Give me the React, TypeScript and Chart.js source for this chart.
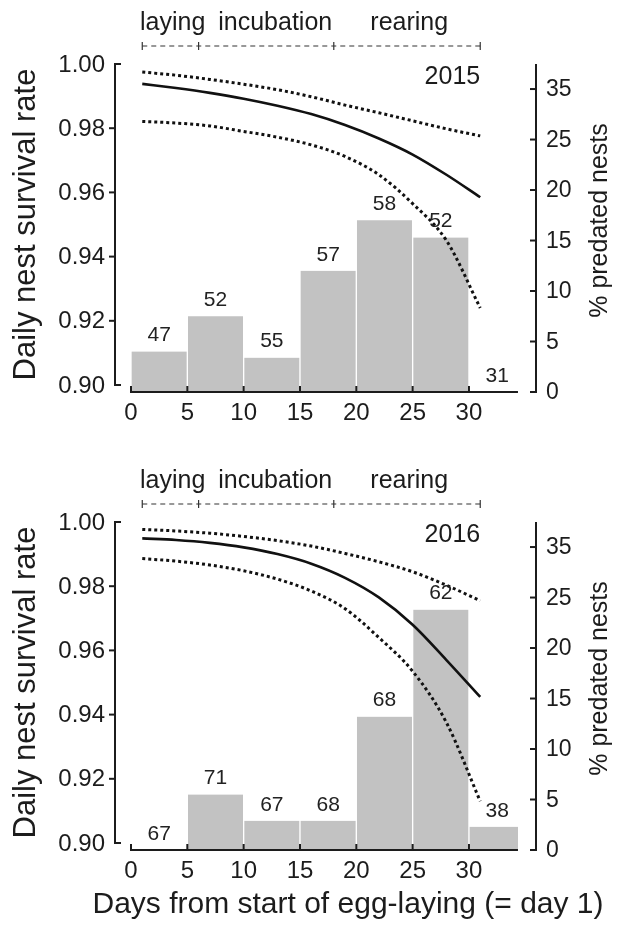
import React, { useEffect, useRef } from "react";
import { Chart, registerables } from "chart.js";

Chart.register(...registerables);

// ---------------- data ----------------
const BIN_CENTERS = [2.5, 7.5, 12.5, 17.5, 22.5, 27.5, 32.5];
const PREDATED_2015 = [4.0, 7.5, 3.4, 12.0, 17.0, 15.3, 0];
const NESTS_2015 = ["47", "52", "55", "57", "58", "52", "31"];
const PREDATED_2016 = [0, 5.5, 2.9, 2.9, 13.2, 23.8, 2.3];
const NESTS_2016 = ["67", "71", "67", "68", "68", "62", "38"];

const CURVE_DAYS = [1, 4, 7, 10, 13, 16, 19, 22, 25, 28, 31];
const DSR_2015 = [0.9938, 0.9925, 0.991, 0.9892, 0.987, 0.9844, 0.981, 0.9768, 0.9718, 0.9655, 0.9585];
const UPPER_2015 = [0.9975, 0.9965, 0.9952, 0.9937, 0.992, 0.9898, 0.9872, 0.9848, 0.9823, 0.9798, 0.9776];
const LOWER_2015 = [0.9821, 0.9816, 0.9807, 0.979, 0.9772, 0.9748, 0.9712, 0.9655, 0.9565, 0.945, 0.924];
const DSR_2016 = [0.9949, 0.9944, 0.9935, 0.9921, 0.99, 0.987, 0.9826, 0.9765, 0.968, 0.957, 0.9455];
const UPPER_2016 = [0.9977, 0.9972, 0.9965, 0.9955, 0.9942, 0.9925, 0.9902, 0.9876, 0.9845, 0.9803, 0.9755];
const LOWER_2016 = [0.9886, 0.9878, 0.9866, 0.9848, 0.9822, 0.9785, 0.973, 0.964, 0.9535, 0.9375, 0.913];

// ---------------- axes ----------------
const X_TICKS = [0, 5, 10, 15, 20, 25, 30];
const X_AXIS_END = 34.35;
const LEFT_TICKS = [0.9, 0.92, 0.94, 0.96, 0.98, 1.0];
const RIGHT_TICKS = [0, 5, 10, 15, 20, 25, 30];
const RIGHT_TICK_LABELS = ["0", "5", "10", "15", "20", "25", "35"];
const PHASE_LABELS = ["laying", "incubation", "rearing"];
const PHASE_LABEL_DAYS = [3.7, 12.8, 24.7];
const PHASE_BOUNDS = [1, 6, 18, 31];
const YEAR_LABEL_DAY = 31;

const FONT = '"Liberation Sans", Arial, Helvetica, sans-serif';
const INK = "#1c1c1c";

const decorPlugin = {
  id: "panelDecor",
  beforeDatasetDraw(chart: any, args: any) {
    if (args.meta.type !== "bar") return;
    const { ctx, chartArea, scales } = chart;
    const right = scales.x.getPixelForValue(X_AXIS_END);
    ctx.save();
    ctx.beginPath();
    ctx.rect(chartArea.left, chartArea.top - 40, right - chartArea.left, chartArea.bottom - chartArea.top + 40);
    ctx.clip();
  },
  afterDatasetDraw(chart: any, args: any) {
    if (args.meta.type !== "bar") return;
    chart.ctx.restore();
  },
  afterDraw(chart: any) {
    const o = chart.options.plugins.panelDecor;
    const { ctx, chartArea } = chart;
    const xs = chart.scales.x;
    const ys = chart.scales.y;
    const y1 = chart.scales.y1;
    const seg = (a: number, b: number, c: number, d: number) => {
      ctx.beginPath();
      ctx.moveTo(a, b);
      ctx.lineTo(c, d);
      ctx.stroke();
    };
    const TICK = 6;
    ctx.save();
    ctx.strokeStyle = INK;
    ctx.fillStyle = INK;
    ctx.lineWidth = 2;

    // ---- left axis ----
    const lx = chartArea.left;
    const lTop = ys.getPixelForValue(LEFT_TICKS[LEFT_TICKS.length - 1]);
    const lBot = ys.getPixelForValue(LEFT_TICKS[0]);
    seg(lx, lTop - 1, lx, lBot + 1);
    ctx.font = `24px ${FONT}`;
    ctx.textAlign = "right";
    ctx.textBaseline = "middle";
    LEFT_TICKS.forEach((v, i) => {
      const py = ys.getPixelForValue(v);
      const end = i === 0 || i === LEFT_TICKS.length - 1;
      if (end) seg(lx - 1, py, lx + TICK, py);
      else seg(lx - TICK, py, lx, py);
      ctx.fillText(v.toFixed(2), lx - 10, py + 1);
    });

    // ---- bottom axis ----
    const by = chartArea.bottom;
    seg(xs.getPixelForValue(X_TICKS[0]) - 1, by, xs.getPixelForValue(X_AXIS_END), by);
    ctx.textAlign = "center";
    X_TICKS.forEach((v) => {
      const px = xs.getPixelForValue(v);
      seg(px, by + 1, px, by - TICK);
      ctx.fillText(String(v), px, by + 21);
    });

    // ---- right axis ----
    const rx = chartArea.right;
    seg(rx, chartArea.top, rx, y1.getPixelForValue(RIGHT_TICKS[0]) + 1);
    ctx.font = `23px ${FONT}`;
    ctx.textAlign = "left";
    RIGHT_TICKS.forEach((v, i) => {
      const py = y1.getPixelForValue(v);
      seg(rx - TICK, py, rx + 1, py);
      ctx.fillText(RIGHT_TICK_LABELS[i], rx + 10, py + 1);
    });

    // ---- axis titles ----
    ctx.save();
    ctx.translate(26, (lTop + lBot) / 2);
    ctx.rotate(-Math.PI / 2);
    ctx.textAlign = "center";
    ctx.font = `31px ${FONT}`;
    ctx.fillText("Daily nest survival rate", 0, 0);
    ctx.restore();

    ctx.save();
    ctx.translate(rx + 64, (lTop + lBot) / 2 - 4);
    ctx.rotate(-Math.PI / 2);
    ctx.textAlign = "center";
    ctx.font = `25px ${FONT}`;
    ctx.fillText("% predated nests", 0, 0);
    ctx.restore();

    if (o.showXTitle) {
      ctx.font = `30px ${FONT}`;
      ctx.textAlign = "center";
      ctx.fillText("Days from start of egg-laying (= day 1)", 348, by + 55);
    }

    // ---- year ----
    ctx.font = `25px ${FONT}`;
    ctx.textAlign = "right";
    ctx.fillText(o.year, xs.getPixelForValue(YEAR_LABEL_DAY), chartArea.top + 13);

    // ---- phase bracket ----
    const bY = chartArea.top - 18;
    ctx.lineWidth = 1.2;
    ctx.strokeStyle = "#333";
    ctx.setLineDash([5, 4]);
    seg(xs.getPixelForValue(PHASE_BOUNDS[0]), bY, xs.getPixelForValue(PHASE_BOUNDS[PHASE_BOUNDS.length - 1]), bY);
    ctx.setLineDash([]);
    PHASE_BOUNDS.forEach((d) => {
      const px = xs.getPixelForValue(d);
      seg(px, bY - 4, px, bY + 4);
    });
    ctx.font = `25px ${FONT}`;
    ctx.textAlign = "center";
    PHASE_LABELS.forEach((lab, i) => {
      ctx.fillText(lab, xs.getPixelForValue(PHASE_LABEL_DAYS[i]), chartArea.top - 41);
    });

    // ---- bar sample sizes ----
    ctx.font = `21px ${FONT}`;
    ctx.fillStyle = "#222";
    o.counts.forEach((lab: string, i: number) => {
      const top = y1.getPixelForValue(o.values[i]);
      ctx.fillText(lab, xs.getPixelForValue(BIN_CENTERS[i]), top - 16);
    });
    ctx.restore();
  },
};

function buildConfig(values: number[], counts: string[], dsr: number[], lower: number[], upper: number[], year: string, showXTitle: boolean, bottomPad: number) {
  const pts = (arr: number[]) => CURVE_DAYS.map((d, i) => ({ x: d, y: arr[i] }));
  const lineBase = {
    type: "line" as const,
    yAxisID: "y",
    pointRadius: 0,
    borderColor: "#111",
    fill: false,
    cubicInterpolationMode: "monotone" as const,
  };
  return {
    type: "bar" as const,
    data: {
      datasets: [
        { ...lineBase, data: pts(upper), borderWidth: 3, borderDash: [3, 3], order: 1 },
        { ...lineBase, data: pts(lower), borderWidth: 3, borderDash: [3, 3], order: 1 },
        { ...lineBase, data: pts(dsr), borderWidth: 2.6, order: 0 },
        {
          type: "bar" as const,
          yAxisID: "y1",
          data: BIN_CENTERS.map((c, i) => ({ x: c, y: values[i] })),
          backgroundColor: "#c2c2c2",
          borderColor: "#ffffff",
          borderWidth: { left: 1, right: 1, top: 0, bottom: 0 },
          borderSkipped: "bottom",
          barPercentage: 1,
          categoryPercentage: 1,
          order: 5,
        },
      ],
    },
    options: {
      responsive: false,
      animation: false,
      devicePixelRatio: 1,
      layout: { padding: { left: 115, right: 82, top: 64, bottom: bottomPad } },
      plugins: {
        legend: { display: false },
        tooltip: { enabled: false },
        panelDecor: { year, counts, values, showXTitle },
      },
      scales: {
        x: {
          type: "linear",
          min: -1.42,
          max: 35.95,
          offset: false,
          display: false,
          ticks: { stepSize: 5, includeBounds: false },
          afterBuildTicks: (s: any) => {
            s.ticks = [0, 5, 10, 15, 20, 25, 30, 35].map((v) => ({ value: v }));
          },
        },
        y: { type: "linear", min: 0.89782, max: 1.0, display: false },
        y1: { type: "linear", min: 0, max: 32.48, display: false },
      },
    },
    plugins: [decorPlugin],
  };
}

function Panel(props: { top: number; height: number; cfg: any }) {
  const ref = useRef<HTMLCanvasElement>(null);
  useEffect(() => {
    if (!ref.current) return;
    const chart = new Chart(ref.current, props.cfg);
    return () => chart.destroy();
  }, []);
  return (
    <canvas
      ref={ref}
      width={618}
      height={props.height}
      style={{ position: "absolute", left: 0, top: props.top, width: 618, height: props.height }}
    />
  );
}

export default function App() {
  const cfgTop = buildConfig(PREDATED_2015, NESTS_2015, DSR_2015, LOWER_2015, UPPER_2015, "2015", false, 458 - 392);
  const cfgBottom = buildConfig(PREDATED_2016, NESTS_2016, DSR_2016, LOWER_2016, UPPER_2016, "2016", true, 475 - 392);
  return (
    <div style={{ position: "absolute", left: 0, top: 0, width: 618, height: 933, background: "#fff" }}>
      <Panel top={0} height={458} cfg={cfgTop} />
      <Panel top={458} height={475} cfg={cfgBottom} />
    </div>
  );
}
